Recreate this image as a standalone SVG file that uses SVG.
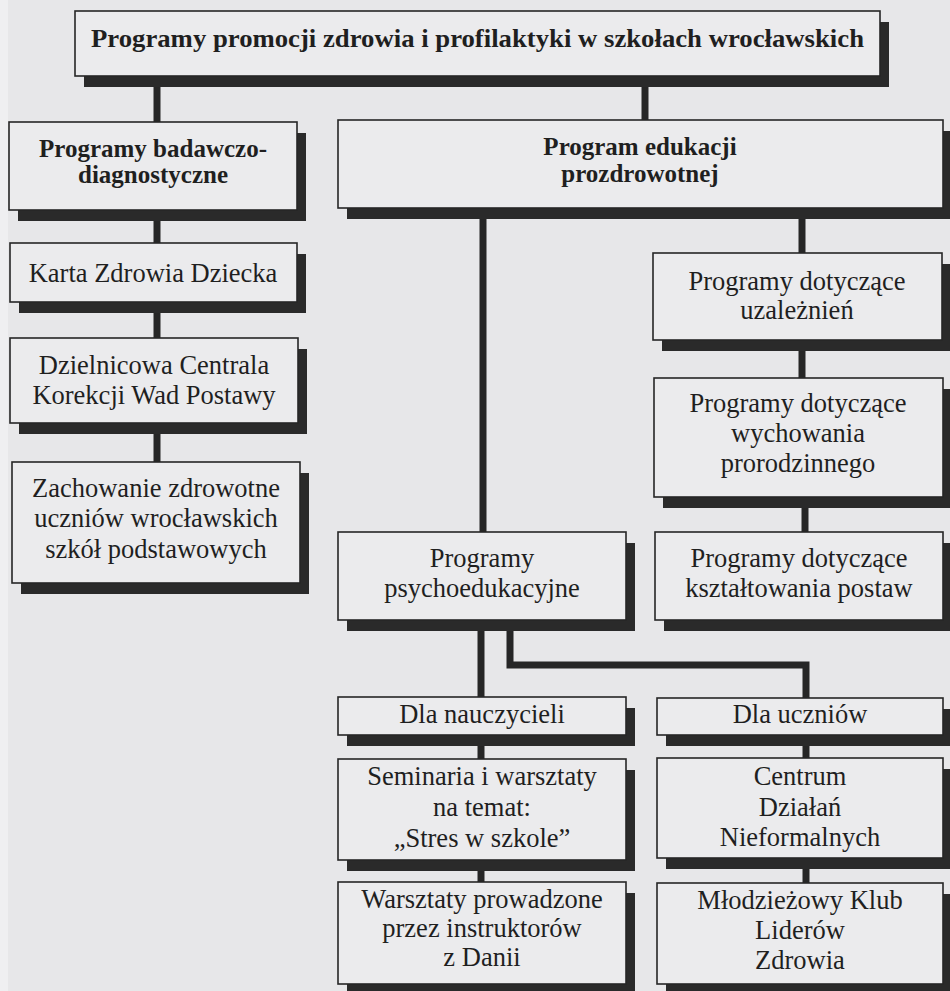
<svg xmlns="http://www.w3.org/2000/svg" width="950" height="991" viewBox="0 0 950 991">
<style>
.bg{fill:#e7e7e9}
.box{fill:#ebebed;stroke:#262626;stroke-width:1.6}
.sh{fill:#2a2a2a}
.con{stroke:#262626;stroke-width:7;fill:none;stroke-linejoin:miter}
text{font-family:"Liberation Serif","Times New Roman",serif;font-size:26.5px;fill:#1f1f1f;text-anchor:middle}
.b{font-weight:bold;font-size:25px}
</style>
<rect class="bg" x="0" y="0" width="950" height="991"/>
<rect x="0" y="0" width="8" height="991" fill="#efeff1"/>
<g id="connectors">
<line class="con" x1="157" y1="86" x2="157" y2="123"/>
<line class="con" x1="645" y1="86" x2="645" y2="121"/>
<line class="con" x1="157" y1="220" x2="157" y2="244"/>
<line class="con" x1="157" y1="312" x2="157" y2="339"/>
<line class="con" x1="157" y1="433" x2="157" y2="463"/>
<line class="con" x1="483" y1="218" x2="483" y2="533"/>
<line class="con" x1="802" y1="218" x2="802" y2="254"/>
<line class="con" x1="802" y1="350" x2="802" y2="379"/>
<line class="con" x1="805" y1="507" x2="805" y2="533"/>
<line class="con" x1="481" y1="630" x2="481" y2="698"/>
<polyline class="con" points="510,630 510,665 806,665 806,699"/>
<line class="con" x1="481" y1="745" x2="481" y2="760"/>
<line class="con" x1="806" y1="745" x2="806" y2="759"/>
<line class="con" x1="481" y1="870" x2="481" y2="883"/>
<line class="con" x1="806" y1="868" x2="806" y2="884"/>
</g>
<g id="n-top">
<rect class="sh" x="84" y="22" width="805" height="65"/>
<rect class="box" x="75" y="11" width="805" height="65"/>
<text class="b" x="477.5" y="47" textLength="773" lengthAdjust="spacingAndGlyphs">Programy promocji zdrowia i profilaktyki w szkołach wrocławskich</text>
</g>
<g id="n-badawczo">
<rect class="sh" x="18" y="133" width="288" height="88"/>
<rect class="box" x="9" y="122" width="288" height="88"/>
<text class="b" x="153" y="157">Programy badawczo-</text>
<text class="b" x="153" y="183">diagnostyczne</text>
</g>
<g id="n-edukacji">
<rect class="sh" x="347" y="131" width="605" height="88"/>
<rect class="box" x="338" y="120" width="605" height="88"/>
<text class="b" x="640" y="155">Program edukacji</text>
<text class="b" x="640" y="182">prozdrowotnej</text>
</g>
<g id="n-karta">
<rect class="sh" x="19" y="254" width="287" height="59"/>
<rect class="box" x="10" y="243" width="287" height="59"/>
<text x="153" y="282">Karta Zdrowia Dziecka</text>
</g>
<g id="n-dzielnicowa">
<rect class="sh" x="19" y="349" width="288" height="85"/>
<rect class="box" x="10" y="338" width="288" height="85"/>
<text x="154" y="374">Dzielnicowa Centrala</text>
<text x="154" y="404">Korekcji Wad Postawy</text>
</g>
<g id="n-zachowanie">
<rect class="sh" x="21" y="473" width="288" height="121"/>
<rect class="box" x="12" y="462" width="288" height="121"/>
<text x="156" y="497">Zachowanie zdrowotne</text>
<text x="156" y="527">uczniów wrocławskich</text>
<text x="156" y="558">szkół podstawowych</text>
</g>
<g id="n-uzaleznien">
<rect class="sh" x="662" y="264" width="289" height="87"/>
<rect class="box" x="653" y="253" width="289" height="87"/>
<text x="797" y="290">Programy dotyczące</text>
<text x="797" y="319">uzależnień</text>
</g>
<g id="n-wychowania">
<rect class="sh" x="663" y="389" width="289" height="119"/>
<rect class="box" x="654" y="378" width="289" height="119"/>
<text x="798" y="412">Programy dotyczące</text>
<text x="798" y="442">wychowania</text>
<text x="798" y="472">prorodzinnego</text>
</g>
<g id="n-ksztaltowania">
<rect class="sh" x="664" y="543" width="288" height="88"/>
<rect class="box" x="655" y="532" width="288" height="88"/>
<text x="799" y="567">Programy dotyczące</text>
<text x="799" y="597">kształtowania postaw</text>
</g>
<g id="n-psycho">
<rect class="sh" x="347" y="543" width="288" height="88"/>
<rect class="box" x="338" y="532" width="288" height="88"/>
<text x="482" y="567">Programy</text>
<text x="482" y="597">psychoedukacyjne</text>
</g>
<g id="n-nauczycieli">
<rect class="sh" x="347" y="708" width="288" height="38"/>
<rect class="box" x="338" y="697" width="288" height="38"/>
<text x="482" y="723">Dla nauczycieli</text>
</g>
<g id="n-uczniow">
<rect class="sh" x="666" y="709" width="286" height="37"/>
<rect class="box" x="657" y="698" width="286" height="37"/>
<text x="800" y="723">Dla uczniów</text>
</g>
<g id="n-seminaria">
<rect class="sh" x="347" y="770" width="288" height="101"/>
<rect class="box" x="338" y="759" width="288" height="101"/>
<text x="482" y="785">Seminaria i warsztaty</text>
<text x="482" y="816">na temat:</text>
<text x="482" y="847">„Stres w szkole”</text>
</g>
<g id="n-centrum">
<rect class="sh" x="666" y="769" width="286" height="100"/>
<rect class="box" x="657" y="758" width="286" height="100"/>
<text x="800" y="785">Centrum</text>
<text x="800" y="816">Działań</text>
<text x="800" y="846">Nieformalnych</text>
</g>
<g id="n-warsztaty">
<rect class="sh" x="347" y="893" width="288" height="102"/>
<rect class="box" x="338" y="882" width="288" height="102"/>
<text x="482" y="908">Warsztaty prowadzone</text>
<text x="482" y="937">przez instruktorów</text>
<text x="482" y="966">z Danii</text>
</g>
<g id="n-klub">
<rect class="sh" x="666" y="894" width="286" height="101"/>
<rect class="box" x="657" y="883" width="286" height="101"/>
<text x="800" y="909">Młodzieżowy Klub</text>
<text x="800" y="939">Liderów</text>
<text x="800" y="969">Zdrowia</text>
</g>
</svg>
